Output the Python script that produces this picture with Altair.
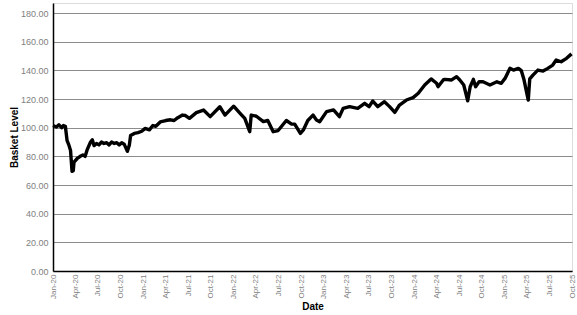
import altair as alt
import pandas as pd

dates = [
    "2020-01-01", "2020-01-15", "2020-01-25", "2020-02-05", "2020-02-12", "2020-02-20",
    "2020-02-27", "2020-03-05", "2020-03-12", "2020-03-18", "2020-03-23", "2020-03-26",
    "2020-04-08", "2020-04-20", "2020-05-01", "2020-05-10", "2020-05-18", "2020-06-01",
    "2020-06-08", "2020-06-15", "2020-06-25", "2020-07-05", "2020-07-15", "2020-07-25",
    "2020-08-05", "2020-08-15", "2020-08-25", "2020-09-05", "2020-09-15", "2020-09-25",
    "2020-10-05", "2020-10-15", "2020-10-28", "2020-11-05", "2020-11-10", "2020-11-25",
    "2020-12-10", "2020-12-25", "2021-01-08", "2021-01-25", "2021-02-08", "2021-02-20",
    "2021-03-10", "2021-04-01", "2021-04-20", "2021-05-05", "2021-05-20", "2021-06-08",
    "2021-06-20", "2021-07-06", "2021-08-03", "2021-09-01", "2021-09-28", "2021-11-06",
    "2021-11-27", "2022-01-01", "2022-01-27", "2022-02-15", "2022-03-07", "2022-03-13",
    "2022-04-03", "2022-05-01", "2022-05-19", "2022-06-10", "2022-06-30", "2022-08-02",
    "2022-08-22", "2022-09-05", "2022-09-28", "2022-10-10", "2022-10-28", "2022-11-18",
    "2022-12-02", "2022-12-15", "2023-01-12", "2023-02-09", "2023-03-05", "2023-03-20",
    "2023-04-15", "2023-05-18", "2023-06-15", "2023-07-03", "2023-07-18", "2023-08-07",
    "2023-09-03", "2023-09-24", "2023-10-15", "2023-11-03", "2023-12-01", "2023-12-28",
    "2024-01-18", "2024-02-13", "2024-03-10", "2024-04-01", "2024-04-07", "2024-04-28",
    "2024-05-04", "2024-06-01", "2024-06-21", "2024-07-04", "2024-07-20", "2024-08-05",
    "2024-08-15", "2024-08-28", "2024-09-06", "2024-09-20", "2024-10-06", "2024-11-03",
    "2024-12-01", "2024-12-19", "2025-01-03", "2025-01-23", "2025-02-06", "2025-02-26",
    "2025-03-10", "2025-03-20", "2025-04-07", "2025-04-13", "2025-04-26", "2025-05-16",
    "2025-06-06", "2025-06-25", "2025-07-15", "2025-07-29", "2025-08-18", "2025-09-09",
    "2025-09-29",
]
levels = [
    101.5, 100.5, 102.0, 100.0, 101.5, 101.0,
    91.0, 88.0, 84.0, 69.5, 70.0, 76.0,
    78.5, 80.0, 81.0, 80.0, 84.5, 90.0,
    91.5, 87.5, 89.0, 88.0, 90.0, 89.0,
    89.5, 88.0, 90.0, 89.0, 89.5, 88.0,
    89.5, 88.5, 83.5, 88.0, 94.5, 96.0,
    96.5, 97.5, 99.5, 98.5, 101.5, 101.0,
    104.0, 105.0, 105.5, 105.0, 107.0, 108.8,
    108.5, 106.5, 110.5, 112.3, 107.7, 114.6,
    108.8, 115.0, 110.0, 106.5, 97.2, 108.8,
    108.0, 104.2, 105.0, 97.2, 98.0, 105.0,
    102.6, 102.5, 96.0, 98.4, 105.0, 108.8,
    105.4, 104.2, 111.2, 112.4, 107.7, 113.5,
    114.7, 113.5, 117.0, 114.7, 118.6, 114.7,
    118.1, 114.7, 110.7, 115.8, 119.3, 121.0,
    124.0, 129.8, 134.0, 131.0, 128.6, 133.3,
    133.7, 133.3, 135.6, 133.3, 129.8, 118.8,
    128.6, 133.7, 128.6, 132.0, 132.0, 129.8,
    132.0, 131.0, 134.4, 141.4, 140.2, 141.4,
    139.8, 134.0, 119.3, 134.0, 136.7, 140.2,
    139.5, 141.4, 143.7, 147.2, 146.0, 148.4,
    151.5,
]

tick_years = [2020] * 4 + [2021] * 4 + [2022] * 4 + [2023] * 4 + [2024] * 4 + [2025] * 4
tick_months = [1, 4, 7, 10] * 6
y_ticks = [0, 20, 40, 60, 80, 100, 120, 140, 160, 180]

df = pd.DataFrame({"date": dates, "level": levels})

tick_values = [alt.DateTime(year=y, month=m, date=1, utc=True)
               for y, m in zip(tick_years, tick_months)]

x_domain = [alt.DateTime(year=2020, month=1, date=1, utc=True),
            alt.DateTime(year=2025, month=10, date=1, utc=True)]

label_color = "#808080"

chart = alt.Chart(df).mark_line(color="black", strokeWidth=3.4, strokeJoin="round").encode(
    x=alt.X(
        "date:T",
        scale=alt.Scale(type="utc", domain=x_domain),
        axis=alt.Axis(
            title="Date",
            values=tick_values,
            labelExpr="utcFormat(datum.value, '%b-%y')",
            labelAngle=-90,
            labelFont="Liberation Sans",
            labelFontSize=8,
            labelColor=label_color,
            labelOverlap=False,
            labelFlush=False,
            labelPadding=3,
            labelBound=False,
            tickSize=0,
            grid=False,
            domainColor="black",
            domainWidth=1.5,
            titleFont="Liberation Sans",
            titleFontSize=10,
            titleFontWeight="bold",
            titleColor="black",
            titleY=30,
        ),
    ),
    y=alt.Y(
        "level:Q",
        scale=alt.Scale(domain=[0, 187], nice=False, zero=True),
        axis=alt.Axis(
            title="Basket Level",
            values=y_ticks,
            format=".2f",
            labelFont="Liberation Sans",
            labelFontSize=9,
            labelColor=label_color,
            labelPadding=5,
            tickSize=0,
            grid=True,
            gridColor="#8c8c8c",
            gridWidth=1,
            domainColor="black",
            domainWidth=1.5,
            titleFont="Liberation Sans",
            titleFontSize=10,
            titleFontWeight="bold",
            titleColor="black",
            titleX=-34,
            titleY=134,
        ),
    ),
).properties(
    width=519,
    height=268,
    autosize=alt.AutoSizeParams(type="none"),
    padding={"left": 53, "top": 3, "right": 5, "bottom": 44},
).configure_view(
    stroke="#8c8c8c",
    strokeWidth=1,
).configure(background="white")

chart.save("out.html", embed_options={"renderer": "svg", "actions": False})
